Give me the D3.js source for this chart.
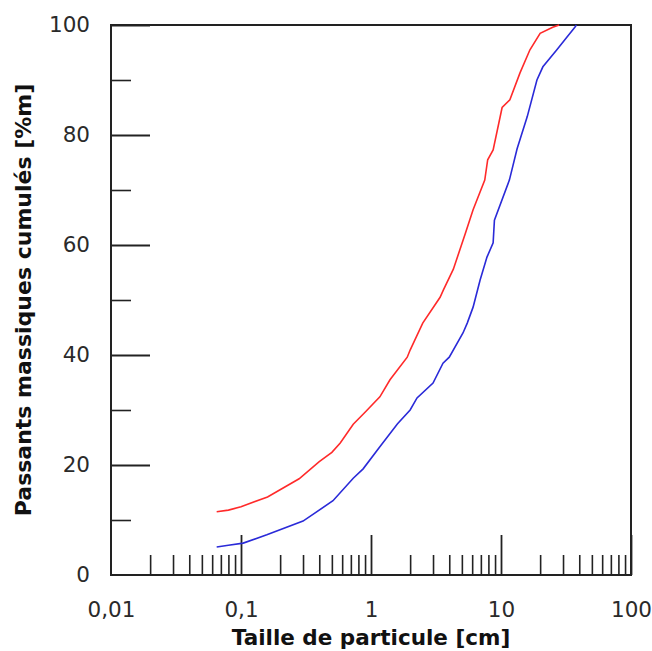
<!DOCTYPE html>
<html><head><meta charset="utf-8">
<script src="https://cdn.jsdelivr.net/npm/d3@7"></script>
<style>
html,body{margin:0;padding:0;background:#fff;}
svg{display:block;}
</style></head>
<body>
<svg id="chart" width="652" height="651"></svg>
<script>
// ---- data ----
const redX = [0.065, 0.08, 0.1, 0.16, 0.28, 0.4, 0.5, 0.58, 0.73, 0.9, 1.17, 1.4, 1.9, 2.0, 2.5, 3.4, 3.6, 4.3, 5.3, 6.1, 7.5, 7.9, 8.7, 10.2, 11.7, 14, 16.7, 20, 25, 28];
const redY = [11.5, 11.8, 12.4, 14.2, 17.5, 20.6, 22.3, 24, 27.4, 29.6, 32.4, 35.5, 39.6, 40.9, 45.8, 50.5, 51.8, 55.6, 62, 66.4, 71.8, 75.5, 77.3, 85, 86.4, 91.3, 95.5, 98.5, 99.6, 100];
const blueX = [0.065, 0.08, 0.104, 0.158, 0.3, 0.51, 0.73, 0.87, 1.17, 1.6, 2.0, 2.26, 3.0, 3.58, 4.0, 5.1, 5.5, 6.1, 6.9, 7.8, 8.7, 8.9, 11.6, 13.3, 15.9, 18.9, 21, 26.9, 32.2, 37, 38];
const blueY = [5.1, 5.4, 5.8, 7.3, 9.8, 13.5, 17.6, 19.3, 23.3, 27.5, 30, 32.2, 34.9, 38.5, 39.6, 44, 45.8, 48.7, 53.6, 57.8, 60.4, 64.5, 71.8, 77.5, 83.3, 90, 92.4, 95.5, 97.8, 99.6, 100];
const xMajorTicks = [0.1, 1, 10, 100];
const xLabelTicks = [0.01, 0.1, 1, 10, 100];
const xTickLabels = ["0,01", "0,1", "1", "10", "100"];
const yMajorTicks = [20, 40, 60, 80, 100];
const yMinorTicks = [10, 30, 50, 70, 90];
const yLabelTicks = [0, 20, 40, 60, 80, 100];
const xTitle = "Taille de particule [cm]";
const yTitle = "Passants massiques cumulés [%m]";

// ---- layout ----
const L = 111, R = 631, T = 25, B = 575;
const svg = d3.select("#chart");
const x = d3.scaleLog().domain([0.01, 100]).range([L, R]);
const y = d3.scaleLinear().domain([0, 100]).range([B, T]);

const xMinorTicks = [];
[0.01, 0.1, 1, 10].forEach(d => { for (let k = 2; k <= 9; k++) xMinorTicks.push(d * k); });

const axisColor = "#222";
const font = "'DejaVu Sans', Verdana, sans-serif";

// minor x ticks
svg.append("g").attr("transform", `translate(0,${B})`)
  .call(d3.axisBottom(x).tickValues(xMinorTicks).tickSize(-20).tickSizeOuter(0).tickFormat(""))
  .call(g => g.select(".domain").remove())
  .call(g => g.selectAll("line").attr("stroke", axisColor).attr("stroke-width", 1.6));
// major x ticks
svg.append("g").attr("transform", `translate(0,${B})`)
  .call(d3.axisBottom(x).tickValues(xMajorTicks).tickSize(-40).tickSizeOuter(0).tickFormat(""))
  .call(g => g.select(".domain").remove())
  .call(g => g.selectAll("line").attr("stroke", axisColor).attr("stroke-width", 1.8));
// x labels
svg.append("g").attr("transform", `translate(0,${B})`)
  .call(d3.axisBottom(x).tickValues(xLabelTicks).tickSize(0).tickPadding(27)
    .tickFormat((d, i) => xTickLabels[i]))
  .call(g => g.select(".domain").remove())
  .call(g => g.selectAll("text").attr("font-family", font).attr("font-size", 21.5).attr("fill", "#2a2a2a"));

// minor y ticks
svg.append("g").attr("transform", `translate(${L},0)`)
  .call(d3.axisLeft(y).tickValues(yMinorTicks).tickSize(-20).tickSizeOuter(0).tickFormat(""))
  .call(g => g.select(".domain").remove())
  .call(g => g.selectAll("line").attr("stroke", axisColor).attr("stroke-width", 1.6));
// major y ticks
svg.append("g").attr("transform", `translate(${L},0)`)
  .call(d3.axisLeft(y).tickValues(yMajorTicks).tickSize(-39).tickSizeOuter(0).tickFormat(""))
  .call(g => g.select(".domain").remove())
  .call(g => g.selectAll("line").attr("stroke", axisColor).attr("stroke-width", 1.8));
// y labels
svg.append("g").attr("transform", `translate(${L},0)`)
  .call(d3.axisLeft(y).tickValues(yLabelTicks).tickSize(0).tickPadding(21).tickFormat(d3.format("d")))
  .call(g => g.select(".domain").remove())
  .call(g => g.selectAll("text").attr("font-family", font).attr("font-size", 21.5).attr("fill", "#2a2a2a"));

// frame
svg.append("rect").attr("x", L).attr("y", T).attr("width", R - L).attr("height", B - T)
  .attr("fill", "none").attr("stroke", axisColor).attr("stroke-width", 2);

// curves
const line = d3.line().x(d => x(d[0])).y(d => y(d[1]));
svg.append("path").datum(redX.map((v, i) => [v, redY[i]]))
  .attr("d", line).attr("fill", "none").attr("stroke", "#ff2a2a").attr("stroke-width", 1.6);
svg.append("path").datum(blueX.map((v, i) => [v, blueY[i]]))
  .attr("d", line).attr("fill", "none").attr("stroke", "#2a2ad8").attr("stroke-width", 1.6);

// titles
svg.append("text").attr("x", (L + R) / 2).attr("y", 645).attr("text-anchor", "middle")
  .attr("font-family", font).attr("font-weight", "bold").attr("font-size", 21.5).attr("fill", "#111")
  .text(xTitle);
svg.append("text").attr("transform", `translate(31,${(T + B) / 2}) rotate(-90)`).attr("text-anchor", "middle")
  .attr("font-family", font).attr("font-weight", "bold").attr("font-size", 22).attr("fill", "#111")
  .text(yTitle);
</script>
</body></html>
